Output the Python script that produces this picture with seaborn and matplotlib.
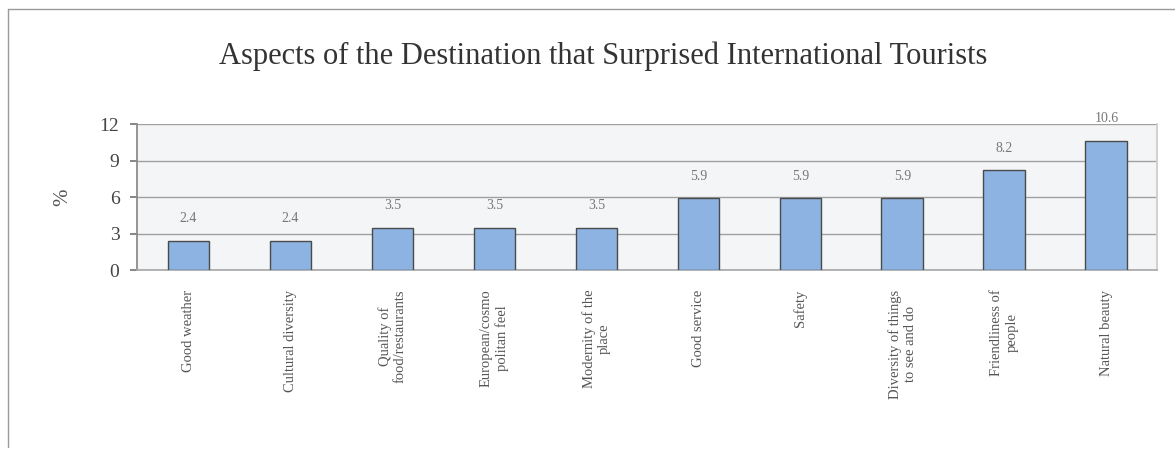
import matplotlib
matplotlib.use("Agg")
import matplotlib.pyplot as plt
import seaborn as sns
import pandas as pd
from matplotlib.lines import Line2D

categories = [
    "Good weather",
    "Cultural diversity",
    "Quality of\nfood/restaurants",
    "European/cosmo\npolitan feel",
    "Modernity of the\nplace",
    "Good service",
    "Safety",
    "Diversity of things\nto see and do",
    "Friendliness of\npeople",
    "Natural beauty",
]
values = [2.4, 2.4, 3.5, 3.5, 3.5, 5.9, 5.9, 5.9, 8.2, 10.6]
y_ticks = [0, 3, 6, 9, 12]

title = "Aspects of the Destination that Surprised International Tourists"

sns.set_theme(style="white")
plt.rcParams["font.family"] = ["Liberation Serif", "DejaVu Serif"]

df = pd.DataFrame({"aspect": categories, "pct": values})

fig = plt.figure(figsize=(11.75, 4.74), dpi=100)
fig.patch.set_facecolor("white")
ax = fig.add_axes([0.117, 0.430, 0.868, 0.308])
ax.set_facecolor("#f4f5f7")

sns.barplot(data=df, x="aspect", y="pct", color="#8db3e2", width=0.41,
            edgecolor="#4a4a4a", linewidth=1.0, saturation=1, ax=ax, zorder=3)

ax.set_ylim(0, 12)
ax.set_yticks(y_ticks)
ax.set_yticklabels([str(t) for t in y_ticks], fontsize=14, color="#444444")
ax.yaxis.grid(True, color="#a0a0a0", linewidth=1.0, zorder=0)
ax.set_axisbelow(True)
ax.tick_params(axis="y", length=5, color="#777777", left=True, pad=8)
ax.tick_params(axis="x", length=0, pad=14)
ax.set_xlabel("")
ax.set_ylabel("%", fontsize=15, color="#555555", labelpad=20)

ax.set_xticks(range(len(categories)))
ax.set_xticklabels(categories, rotation=90, fontsize=10.5, color="#555555",
                   ha="center", va="top", multialignment="center")

ax.spines["top"].set_visible(False)
ax.spines["left"].set_color("#888888")
ax.spines["bottom"].set_color("#aaaaaa")
ax.spines["right"].set_color("#cccccc")

for i, v in enumerate(values):
    ax.text(i, v + 1.3, f"{v:.1f}", ha="center", va="bottom",
            fontsize=10, color="#777777")

fig.text(0.513, 0.882, title, ha="center", va="center",
         fontsize=22, color="#333333")

# Outer chart frame (left and top edges)
fig.add_artist(Line2D([0.007, 0.007], [0.057, 0.98], transform=fig.transFigure,
                      color="#9a9a9a", linewidth=1.0))
fig.add_artist(Line2D([0.007, 1.0], [0.98, 0.98], transform=fig.transFigure,
                      color="#9a9a9a", linewidth=1.0))

fig.savefig("out.png", dpi=100, facecolor="white")
